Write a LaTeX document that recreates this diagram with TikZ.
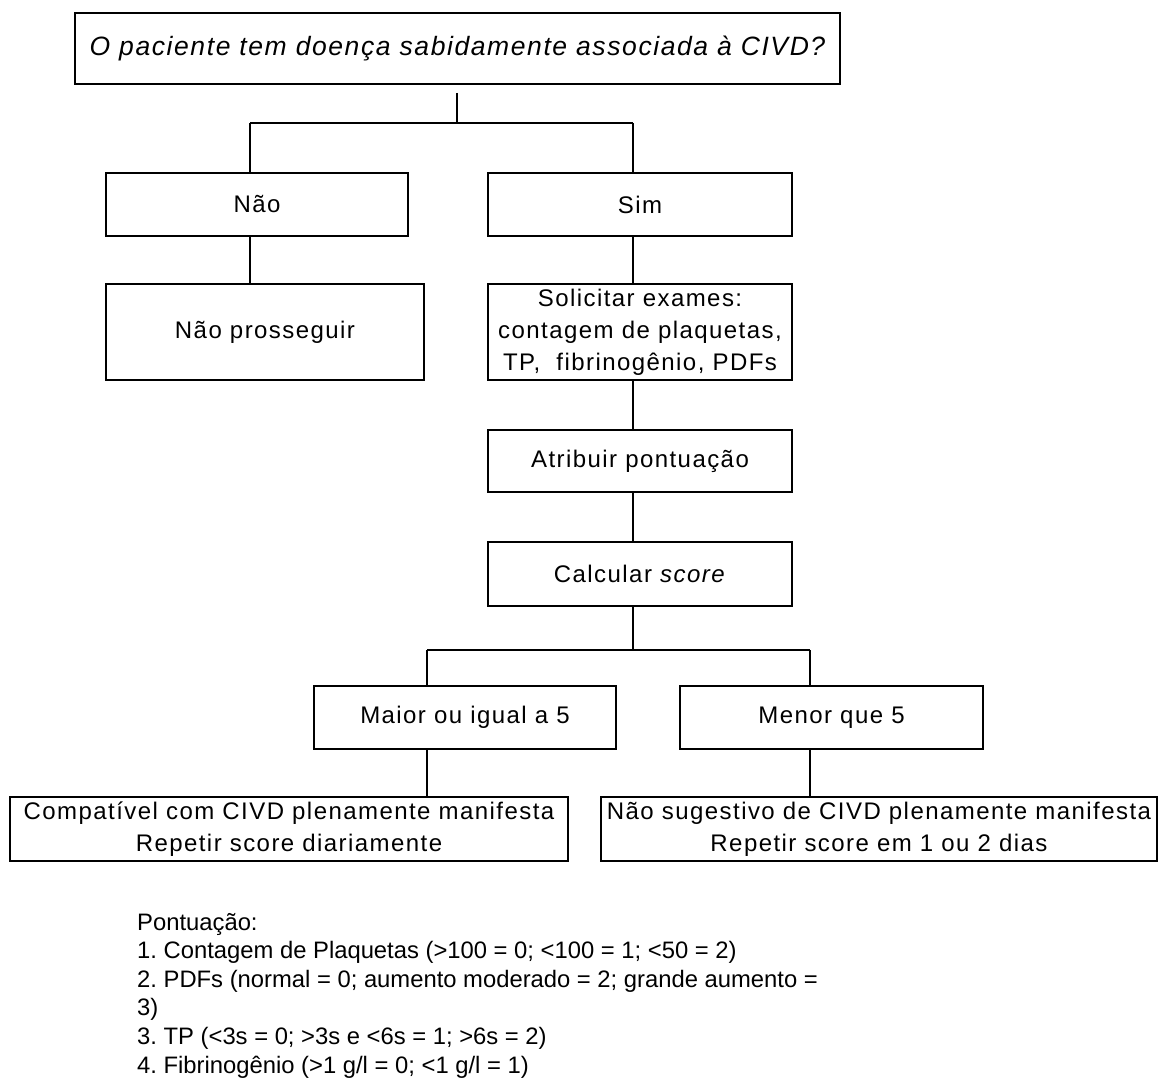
\documentclass[tikz,border=0pt]{standalone}
\usepackage{fontspec}
\setmainfont{Liberation Sans}
\newfontfamily\boxfont[LetterSpace=6]{Liberation Sans}
\frenchspacing
\begin{document}
\frenchspacing
\begin{tikzpicture}[x=1pt,y=-1pt,
  box/.style={draw, line width=1.7pt, inner sep=0pt, align=center,
    font=\boxfont\fontsize{24}{32}\selectfont},
  link/.style={line width=1.7pt}]
\useasboundingbox[fill=white] (0,0) rectangle (1159,1078);
\node[box, minimum width=765pt, minimum height=71pt, font=\boxfont\itshape\fontsize{26.5}{32}\selectfont] (top) at (457.5,48.5) {O paciente tem doença sabidamente associada à CIVD?};
\node[box, minimum width=302pt, minimum height=63pt] (nao) at (257,204.5) {Não};
\node[box, minimum width=304pt, minimum height=63pt] (sim) at (640,204.5) {Sim};
\node[box, minimum width=318pt, minimum height=96pt] (naop) at (265,332) {Não prosseguir};
\node[box, minimum width=304pt, minimum height=96pt] (sol) at (640,332) {Solicitar exames:\\contagem de plaquetas,\\TP,\ \ fibrinogênio, PDFs};
\node[box, minimum width=304pt, minimum height=62pt] (atr) at (640,461) {Atribuir pontuação};
\node[box, minimum width=304pt, minimum height=64pt] (calc) at (640,574) {Calcular \textit{score}};
\node[box, minimum width=302pt, minimum height=63pt] (maior) at (465,717.5) {Maior ou igual a 5};
\node[box, minimum width=303pt, minimum height=63pt] (menor) at (831.5,717.5) {Menor que 5};
\node[box, minimum width=558pt, minimum height=64pt] (comp) at (289,829) {Compatível com CIVD plenamente manifesta\\Repetir score diariamente};
\node[box, minimum width=556pt, minimum height=64pt] (nsug) at (879,829) {Não sugestivo de CIVD plenamente manifesta\\Repetir score em 1 ou 2 dias};
\node[anchor=base west, inner sep=0pt, align=left, font=\fontsize{23.8}{28.6}\selectfont] (pont) at (137,1073) {Pontuação:\\1. Contagem de Plaquetas (>100 = 0; <100 = 1; <50 = 2)\\2. PDFs (normal = 0; aumento moderado = 2; grande aumento =\\3)\\3. TP (<3s = 0; >3s e <6s = 1; >6s = 2)\\4. Fibrinogênio (>1 g/l = 0; <1 g/l = 1)};
\coordinate (j1) at (457,123);
\coordinate (jL) at (250,123);
\coordinate (jR) at (633,123);
\coordinate (j2) at (633,650);
\coordinate (j2L) at (427,650);
\coordinate (j2R) at (810,650);
\draw[link] ([yshift=-8pt]top.south -| j1) -- (j1);
\draw[link] (jL) -- (jR);
\draw[link] (jL) -- (jL |- nao.north);
\draw[link] (jR) -- (jR |- sim.north);
\draw[link] (jL |- nao.south) -- (jL |- naop.north);
\draw[link] (jR |- sim.south) -- (jR |- sol.north);
\draw[link] (jR |- sol.south) -- (jR |- atr.north);
\draw[link] (jR |- atr.south) -- (jR |- calc.north);
\draw[link] (jR |- calc.south) -- (j2);
\draw[link] (j2L) -- (j2R);
\draw[link] (j2L) -- (j2L |- maior.north);
\draw[link] (j2R) -- (j2R |- menor.north);
\draw[link] (j2L |- maior.south) -- (j2L |- comp.north);
\draw[link] (j2R |- menor.south) -- (j2R |- nsug.north);
\end{tikzpicture}
\end{document}
